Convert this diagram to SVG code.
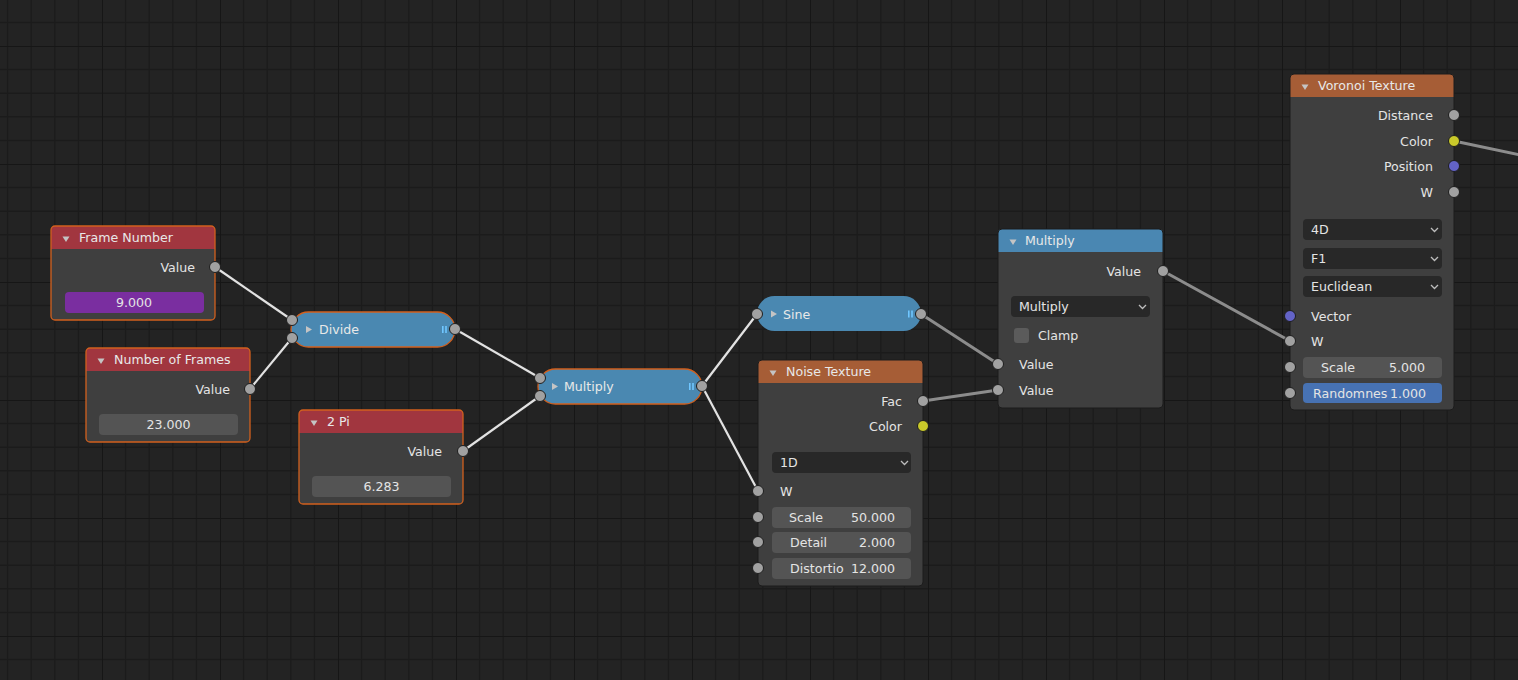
<svg xmlns="http://www.w3.org/2000/svg" width="1518" height="680" viewBox="0 0 1518 680">
<defs>
<pattern id="grid" patternUnits="userSpaceOnUse" x="102" y="46" width="118" height="118">
<rect width="118" height="118" fill="#232323"/>
<g stroke="#1b1b1b" stroke-width="1.5">
<line x1="23.6" y1="0" x2="23.6" y2="118"/><line x1="47.2" y1="0" x2="47.2" y2="118"/><line x1="70.8" y1="0" x2="70.8" y2="118"/><line x1="94.4" y1="0" x2="94.4" y2="118"/>
<line x1="0" y1="23.6" x2="118" y2="23.6"/><line x1="0" y1="47.2" x2="118" y2="47.2"/><line x1="0" y1="70.8" x2="118" y2="70.8"/><line x1="0" y1="94.4" x2="118" y2="94.4"/>
</g>
<g stroke="#161616" stroke-width="2">
<line x1="0" y1="0" x2="0" y2="118"/><line x1="0" y1="0" x2="118" y2="0"/>
</g>
</pattern>
<style>
text{font-family:"DejaVu Sans","Liberation Sans",sans-serif;font-size:12.6px;fill:#e4e4e4}
.hd{fill:#e8e8e8}
.mid{text-anchor:middle}
.end{text-anchor:end}
.body{fill:#3f3f3f}
.sel{fill:none;stroke:#d2601e;stroke-width:1.3}
.uns{fill:none;stroke:#1c1c1c;stroke-width:1}
.red{fill:#a1363f}
.org{fill:#a65d36}
.blu{fill:#4a87b2}
.pill{fill:#4a88b1}
.fld{fill:#545454}
.dd{fill:#282828}
.tri{fill:#c4c4c4}
.sk{fill:#a1a1a1;stroke:#1e1e1e;stroke-width:1}
.sky{fill:#c9c92a;stroke:#1e1e1e;stroke-width:1}
.skp{fill:#6363c7;stroke:#1e1e1e;stroke-width:1}
.chev{fill:none;stroke:#bdbdbd;stroke-width:1.3}
.bar{fill:#6fc6ff}
.lo{stroke:#262626;stroke-width:4.5;stroke-linecap:round}
.lw{stroke:#e2e2e2;stroke-width:2.2;stroke-linecap:round}
.lg{stroke:#8c8c8c;stroke-width:3;stroke-linecap:round}
</style>
</defs>
<rect width="1518" height="680" fill="url(#grid)"/>

<g id="connectors">
<line class="lo" x1="215" y1="267" x2="292" y2="320"/><line class="lw" x1="215" y1="267" x2="292" y2="320"/>
<line class="lo" x1="250" y1="389" x2="292" y2="338"/><line class="lw" x1="250" y1="389" x2="292" y2="338"/>
<line class="lo" x1="455" y1="329" x2="540" y2="378"/><line class="lw" x1="455" y1="329" x2="540" y2="378"/>
<line class="lo" x1="463" y1="451" x2="540" y2="396"/><line class="lw" x1="463" y1="451" x2="540" y2="396"/>
<line class="lo" x1="702" y1="386" x2="757" y2="314"/><line class="lw" x1="702" y1="386" x2="757" y2="314"/>
<line class="lo" x1="702" y1="386" x2="758" y2="491"/><line class="lw" x1="702" y1="386" x2="758" y2="491"/>
<line class="lg" x1="921" y1="314" x2="998" y2="364"/>
<line class="lg" x1="923" y1="401" x2="998" y2="390"/>
<line class="lg" x1="1163" y1="271" x2="1290" y2="341"/>
<line class="lg" x1="1454" y1="141" x2="1520" y2="155"/>
</g>

<g id="frame-number" transform="translate(51,226)">
<rect class="body" width="164" height="94" rx="4"/>
<path class="red" d="M0,23V4Q0,0 4,0H160Q164,0 164,4V23Z"/>
<polygon class="tri" points="11.5,10.5 18.5,10.5 15,16"/>
<text class="hd" x="28" y="16">Frame Number</text>
<text class="end" x="144" y="45.5">Value</text>
<rect x="14" y="66" width="139" height="21" rx="4" fill="#7a2ea0"/>
<text class="mid" x="83" y="81">9.000</text>
<rect class="sel" width="164" height="94" rx="4"/>
<circle class="sk" cx="164" cy="41" r="5.5"/>
</g>

<g id="number-of-frames" transform="translate(86,348)">
<rect class="body" width="164" height="94" rx="4"/>
<path class="red" d="M0,23V4Q0,0 4,0H160Q164,0 164,4V23Z"/>
<polygon class="tri" points="11.5,10.5 18.5,10.5 15,16"/>
<text class="hd" x="28" y="16">Number of Frames</text>
<text class="end" x="144" y="45.5">Value</text>
<rect class="fld" x="13" y="66" width="139" height="21" rx="4"/>
<text class="mid" x="82.5" y="81">23.000</text>
<rect class="sel" width="164" height="94" rx="4"/>
<circle class="sk" cx="164" cy="41" r="5.5"/>
</g>

<g id="two-pi" transform="translate(299,410)">
<rect class="body" width="164" height="94" rx="4"/>
<path class="red" d="M0,23V4Q0,0 4,0H160Q164,0 164,4V23Z"/>
<polygon class="tri" points="11.5,10.5 18.5,10.5 15,16"/>
<text class="hd" x="28" y="16">2 Pi</text>
<text class="end" x="143" y="45.5">Value</text>
<rect class="fld" x="13" y="66" width="139" height="21" rx="4"/>
<text class="mid" x="82.5" y="81">6.283</text>
<rect class="sel" width="164" height="94" rx="4"/>
<circle class="sk" cx="164" cy="41" r="5.5"/>
</g>

<g id="divide" transform="translate(291,312)">
<rect class="pill" width="164" height="35" rx="17.5"/>
<rect class="sel" width="164" height="35" rx="17.5"/>
<polygon class="tri" points="15,14 21,17.5 15,21"/>
<text class="hd" x="28" y="22">Divide</text>
<rect class="bar" x="151" y="14" width="1.6" height="7"/><rect class="bar" x="154.2" y="14" width="1.6" height="7"/>
<circle class="sk" cx="1" cy="8" r="5.5"/>
<circle class="sk" cx="1" cy="26" r="5.5"/>
<circle class="sk" cx="164" cy="17" r="5.5"/>
</g>

<g id="multiply-collapsed" transform="translate(538,369)">
<rect class="pill" width="164" height="35" rx="17.5"/>
<rect class="sel" width="164" height="35" rx="17.5"/>
<polygon class="tri" points="14,14 20,17.5 14,21"/>
<text class="hd" x="26" y="22">Multiply</text>
<rect class="bar" x="151" y="14" width="1.6" height="7"/><rect class="bar" x="154.2" y="14" width="1.6" height="7"/>
<circle class="sk" cx="2" cy="9" r="5.5"/>
<circle class="sk" cx="2" cy="27" r="5.5"/>
<circle class="sk" cx="164" cy="17" r="5.5"/>
</g>

<g id="sine" transform="translate(757,296)">
<rect class="pill" width="164" height="35" rx="17.5"/>
<polygon class="tri" points="14,14.5 20,18 14,21.5"/>
<text class="hd" x="26" y="22.5">Sine</text>
<rect class="bar" x="151" y="14.5" width="1.6" height="7"/><rect class="bar" x="154.2" y="14.5" width="1.6" height="7"/>
<circle class="sk" cx="0" cy="18" r="5.5"/>
<circle class="sk" cx="164" cy="18" r="5.5"/>
</g>

<g id="noise-texture" transform="translate(758,360)">
<rect class="body" width="165" height="226" rx="4"/>
<path class="org" d="M0,23V4Q0,0 4,0H161Q165,0 165,4V23Z"/>
<polygon class="tri" points="11.5,10.5 18.5,10.5 15,16"/>
<text class="hd" x="28" y="16">Noise Texture</text>
<text class="end" x="144" y="45.5">Fac</text>
<text class="end" x="144" y="70.5">Color</text>
<rect class="dd" x="14" y="92" width="139" height="21" rx="4"/>
<text x="22" y="107">1D</text>
<polyline class="chev" points="143,101 146.5,104.5 150,101"/>
<text x="22" y="135.5">W</text>
<rect class="fld" x="14" y="147" width="139" height="21" rx="4"/>
<text x="31" y="161.5">Scale</text><text class="end" x="137" y="161.5">50.000</text>
<rect class="fld" x="14" y="172" width="139" height="21" rx="4"/>
<text x="32" y="186.5">Detail</text><text class="end" x="137" y="186.5">2.000</text>
<rect class="fld" x="14" y="198" width="139" height="21" rx="4"/>
<text x="32" y="212.5">Distortio</text><text class="end" x="137" y="212.5">12.000</text>
<rect class="uns" width="165" height="226" rx="4"/>
<circle class="sk" cx="165" cy="41" r="5.5"/>
<circle class="sky" cx="165" cy="66" r="5.5"/>
<circle class="sk" cx="0" cy="131" r="5.5"/>
<circle class="sk" cx="0" cy="157" r="5.5"/>
<circle class="sk" cx="0" cy="182" r="5.5"/>
<circle class="sk" cx="0" cy="208" r="5.5"/>
</g>

<g id="multiply" transform="translate(998,229)">
<rect class="body" width="165" height="179" rx="4"/>
<path class="blu" d="M0,23V4Q0,0 4,0H161Q165,0 165,4V23Z"/>
<polygon class="tri" points="11.5,10.5 18.5,10.5 15,16"/>
<text class="hd" x="27" y="16">Multiply</text>
<text class="end" x="143" y="46.5">Value</text>
<rect class="dd" x="13" y="67" width="139" height="21" rx="4"/>
<text x="21" y="82">Multiply</text>
<polyline class="chev" points="141,76 144.5,79.5 148,76"/>
<rect x="16" y="99" width="15" height="15" rx="3" fill="#5b5b5b"/>
<text x="40" y="110.5">Clamp</text>
<text x="21" y="139.5">Value</text>
<text x="21" y="165.5">Value</text>
<rect class="uns" width="165" height="179" rx="4"/>
<circle class="sk" cx="165" cy="42" r="5.5"/>
<circle class="sk" cx="0" cy="135" r="5.5"/>
<circle class="sk" cx="0" cy="161" r="5.5"/>
</g>

<g id="voronoi-texture" transform="translate(1290,74)">
<rect class="body" width="164" height="336" rx="4"/>
<path class="org" d="M0,23V4Q0,0 4,0H160Q164,0 164,4V23Z"/>
<polygon class="tri" points="11.5,10.5 18.5,10.5 15,16"/>
<text class="hd" x="28" y="16">Voronoi Texture</text>
<text class="end" x="143" y="45.5">Distance</text>
<text class="end" x="143" y="71.5">Color</text>
<text class="end" x="143" y="96.5">Position</text>
<text class="end" x="143" y="122.5">W</text>
<rect class="dd" x="13" y="145" width="139" height="21" rx="4"/>
<text x="21" y="160">4D</text>
<polyline class="chev" points="141,154 144.5,157.5 148,154"/>
<rect class="dd" x="13" y="174" width="139" height="21" rx="4"/>
<text x="21" y="189">F1</text>
<polyline class="chev" points="141,183 144.5,186.5 148,183"/>
<rect class="dd" x="13" y="202" width="139" height="21" rx="4"/>
<text x="21" y="217">Euclidean</text>
<polyline class="chev" points="141,211 144.5,214.5 148,211"/>
<text x="21" y="246.5">Vector</text>
<text x="21" y="271.5">W</text>
<rect class="fld" x="13" y="283" width="139" height="21" rx="4"/>
<text x="31" y="297.5">Scale</text><text class="end" x="135" y="297.5">5.000</text>
<rect x="13" y="309" width="139" height="20" rx="4" fill="#4772b3"/>
<text x="23" y="323.5">Randomnes</text><text class="end" x="136" y="323.5">1.000</text>
<rect class="uns" width="164" height="336" rx="4"/>
<circle class="sk" cx="164" cy="41" r="5.5"/>
<circle class="sky" cx="164" cy="67" r="5.5"/>
<circle class="skp" cx="164" cy="92" r="5.5"/>
<circle class="sk" cx="164" cy="118" r="5.5"/>
<circle class="skp" cx="0" cy="242" r="5.5"/>
<circle class="sk" cx="0" cy="267" r="5.5"/>
<circle class="sk" cx="0" cy="293" r="5.5"/>
<circle class="sk" cx="0" cy="319" r="5.5"/>
</g>
</svg>
